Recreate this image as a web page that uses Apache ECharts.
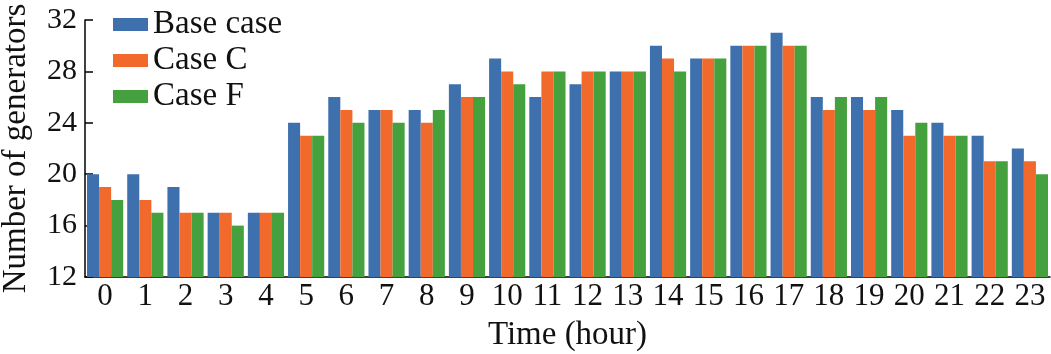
<!DOCTYPE html>
<html>
<head>
<meta charset="utf-8">
<script src="https://cdn.jsdelivr.net/npm/echarts@6/dist/echarts.min.js"></script>
<style>
    html, body { margin: 0; padding: 0; background: #fff; }
    #chart { width: 1051px; height: 354px; }
</style>
</head>
<body>
<div id="chart"></div>
<script>
var hours = ['0', '1', '2', '3', '4', '5', '6', '7', '8', '9', '10', '11',
    '12', '13', '14', '15', '16', '17', '18', '19', '20', '21', '22', '23'];
var baseCase = [20, 20, 19, 17, 17, 24, 26, 25, 25, 27, 29, 26, 27, 28, 30, 29, 30, 31, 26, 26, 25, 24, 23, 22];
var caseC = [19, 18, 17, 17, 17, 23, 25, 25, 24, 26, 28, 28, 28, 28, 29, 29, 30, 30, 25, 25, 23, 23, 21, 21];
var caseF = [18, 17, 17, 16, 17, 23, 24, 24, 25, 26, 27, 28, 28, 28, 28, 29, 30, 30, 26, 26, 24, 23, 21, 20];

var font = 'Liberation Serif';
var myChart = echarts.init(document.getElementById('chart'));

function barSeries(name, data, color) {
    return {
        name: name,
        type: 'bar',
        barGap: 0,
        barCategoryGap: '10%',
        itemStyle: { color: color },
        data: data
    };
}

var option = {
    animation: false,
    textStyle: { fontFamily: font, color: '#000' },
    legend: {
        orient: 'vertical',
        left: 108,
        top: 3,
        itemWidth: 35,
        itemHeight: 13,
        itemGap: 3,
        icon: 'rect',
        textStyle: { fontFamily: font, fontSize: 33, color: '#111' },
        data: ['Base case', 'Case C', 'Case F']
    },
    grid: { left: 85, right: 1, top: 20, bottom: 77, containLabel: false, outerBoundsMode: 'none' },
    xAxis: {
        type: 'category',
        data: hours,
        name: 'Time (hour)',
        nameLocation: 'middle',
        nameGap: 42,
        nameTextStyle: { fontFamily: font, fontSize: 33, color: '#111' },
        axisLine: { lineStyle: { color: '#000', width: 1.5 } },
        axisTick: { alignWithLabel: true, inside: true, length: 6, lineStyle: { color: '#000', width: 1.5 } },
        axisLabel: { fontFamily: font, fontSize: 31, color: '#111', margin: 4, interval: 0 }
    },
    yAxis: {
        type: 'value',
        min: 12,
        max: 32,
        interval: 4,
        name: 'Number of generators',
        nameLocation: 'middle',
        nameGap: 52,
        nameTextStyle: { fontFamily: font, fontSize: 33, color: '#111' },
        splitLine: { show: false },
        axisLine: { show: true, lineStyle: { color: '#000', width: 1.5 } },
        axisTick: { show: true, inside: true, length: 8, lineStyle: { color: '#000', width: 1.5 } },
        axisLabel: { fontFamily: font, fontSize: 30, color: '#111', margin: 8 }
    },
    series: [
        barSeries('Base case', baseCase, '#3e70ae'),
        barSeries('Case C', caseC, '#f26a2b'),
        barSeries('Case F', caseF, '#45a03e')
    ]
};

myChart.setOption(option);
</script>
</body>
</html>
